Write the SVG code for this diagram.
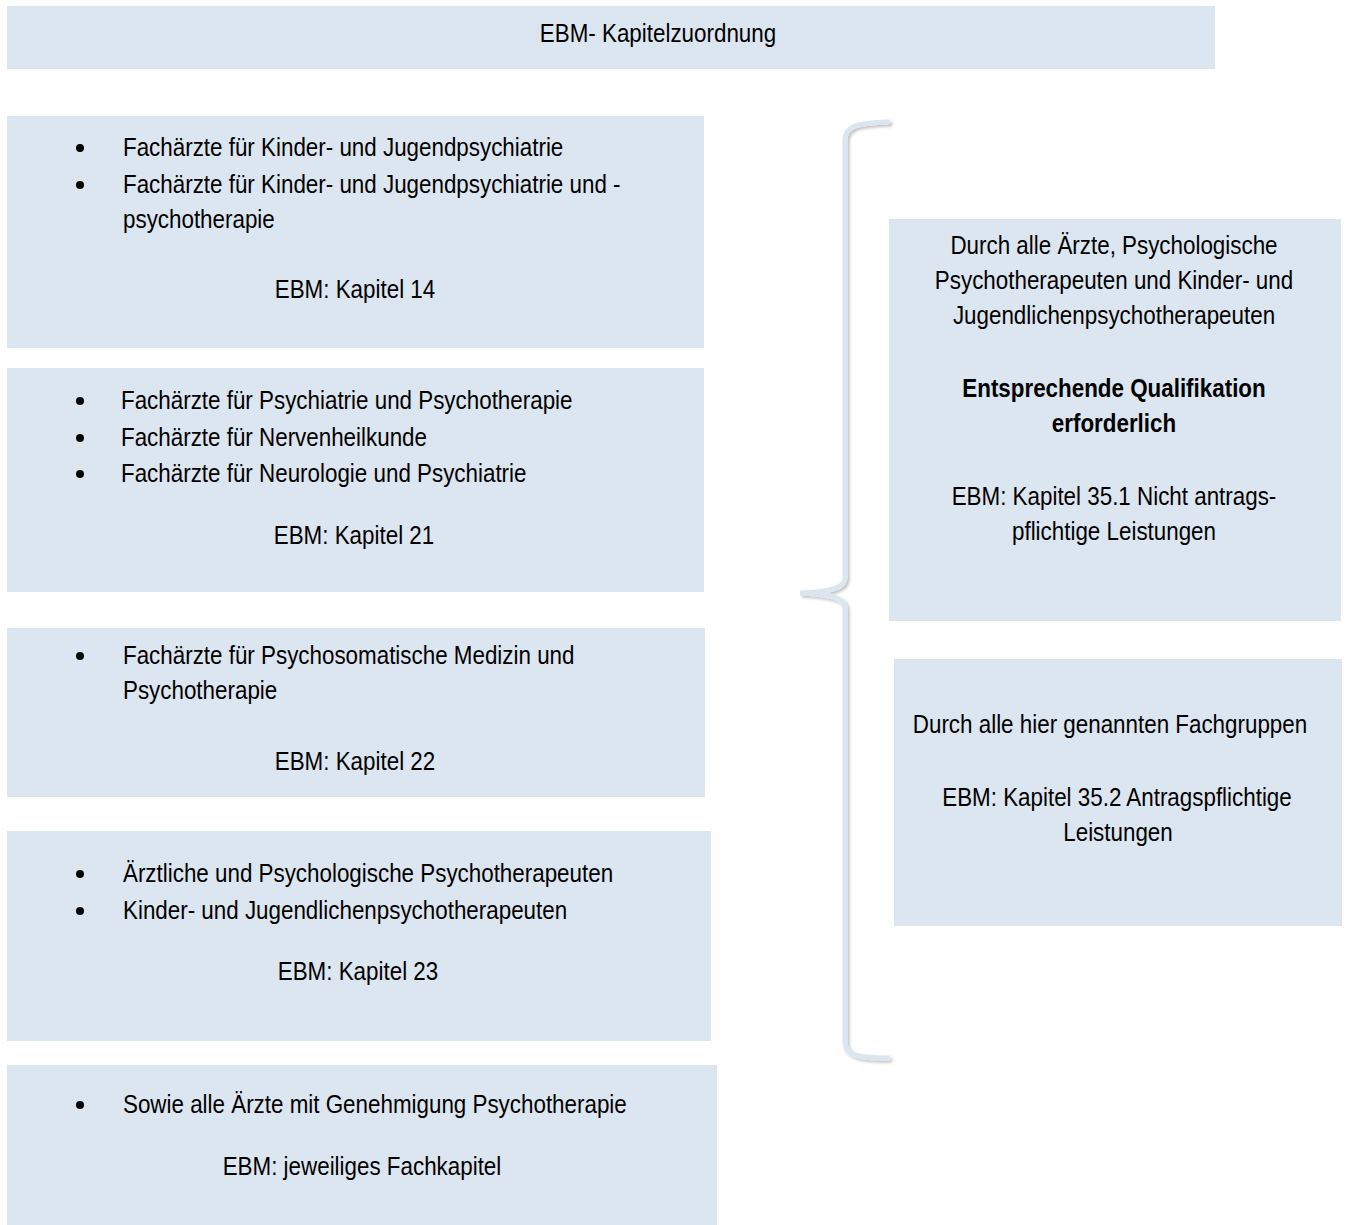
<svg xmlns="http://www.w3.org/2000/svg" width="1346" height="1225" viewBox="0 0 1346 1225">
<defs>
<style>
.box{fill:#DCE6F1}
text{font-family:"Liberation Sans",Arial,sans-serif;font-size:26.5px;fill:#000;transform-box:fill-box;transform-origin:0% 50%;transform:scaleX(0.845)}
.c{text-anchor:middle;transform-origin:50% 50%}
.b{font-weight:bold}
.dot{fill:#000}
</style>
<filter id="sh" x="-20%" y="-5%" width="140%" height="110%">
<feGaussianBlur in="SourceAlpha" stdDeviation="1.5"/>
<feOffset dx="2" dy="2" result="o"/>
<feComponentTransfer><feFuncA type="linear" slope="0.25"/></feComponentTransfer>
<feMerge><feMergeNode/><feMergeNode in="SourceGraphic"/></feMerge>
</filter>
</defs>
<rect width="1346" height="1225" fill="#fff"/>
<g id="title"><rect class="box" x="7" y="6" width="1208" height="63"/><text class="c" x="658" y="42">EBM- Kapitelzuordnung</text></g>
<g id="k14"><rect class="box" x="7" y="116" width="697" height="232"/>
<circle class="dot" cx="80" cy="148" r="4"/><circle class="dot" cx="80" cy="185" r="4"/>
<text x="123" y="156">Fachärzte für Kinder- und Jugendpsychiatrie</text>
<text x="123" y="193">Fachärzte für Kinder- und Jugendpsychiatrie und -</text>
<text x="123" y="228">psychotherapie</text>
<text class="c" x="355" y="298">EBM: Kapitel 14</text></g>
<g id="k21"><rect class="box" x="7" y="368" width="697" height="224"/>
<circle class="dot" cx="80" cy="401" r="4"/><circle class="dot" cx="80" cy="438" r="4"/><circle class="dot" cx="80" cy="474" r="4"/>
<text x="121" y="409">Fachärzte für Psychiatrie und Psychotherapie</text>
<text x="121" y="446">Fachärzte für Nervenheilkunde</text>
<text x="121" y="482">Fachärzte für Neurologie und Psychiatrie</text>
<text class="c" x="354" y="544">EBM: Kapitel 21</text></g>
<g id="k22"><rect class="box" x="7" y="628" width="698" height="169"/>
<circle class="dot" cx="80" cy="656" r="4"/>
<text x="123" y="664">Fachärzte für Psychosomatische Medizin und</text>
<text x="123" y="699">Psychotherapie</text>
<text class="c" x="355" y="770">EBM: Kapitel 22</text></g>
<g id="k23"><rect class="box" x="7" y="831" width="704" height="210"/>
<circle class="dot" cx="80" cy="874" r="4"/><circle class="dot" cx="80" cy="911" r="4"/>
<text x="123" y="882">Ärztliche und Psychologische Psychotherapeuten</text>
<text x="123" y="919">Kinder- und Jugendlichenpsychotherapeuten</text>
<text class="c" x="358" y="980">EBM: Kapitel 23</text></g>
<g id="fach"><rect class="box" x="7" y="1065" width="710" height="160"/>
<circle class="dot" cx="80" cy="1105" r="4"/>
<text x="123" y="1113">Sowie alle Ärzte mit Genehmigung Psychotherapie</text>
<text class="c" x="362" y="1175">EBM: jeweiliges Fachkapitel</text></g>
<g id="k351"><rect class="box" x="889" y="219" width="452" height="402"/>
<text class="c" x="1114" y="254">Durch alle Ärzte, Psychologische</text>
<text class="c" x="1114" y="289">Psychotherapeuten und Kinder- und</text>
<text class="c" x="1114" y="324">Jugendlichenpsychotherapeuten</text>
<text class="c b" x="1114" y="397">Entsprechende Qualifikation</text>
<text class="c b" x="1114" y="432">erforderlich</text>
<text class="c" x="1114" y="505">EBM: Kapitel 35.1 Nicht antrags-</text>
<text class="c" x="1114" y="540">pflichtige Leistungen</text></g>
<g id="k352"><rect class="box" x="894" y="659" width="448" height="267"/>
<text class="c" x="1110" y="733">Durch alle hier genannten Fachgruppen</text>
<text class="c" x="1117" y="806">EBM: Kapitel 35.2 Antragspflichtige</text>
<text class="c" x="1118" y="841">Leistungen</text></g>
<g id="connectors">
<path d="M888,122 C860,123 845,125 845,140 L845,578 C845,588 830,592 800,593 C830,594 845,598 845,608 L845,1042 C845,1056 860,1058 888,1058" fill="none" stroke="#DCE6F1" stroke-width="5" stroke-linecap="round" filter="url(#sh)"/>
</g>
</svg>
